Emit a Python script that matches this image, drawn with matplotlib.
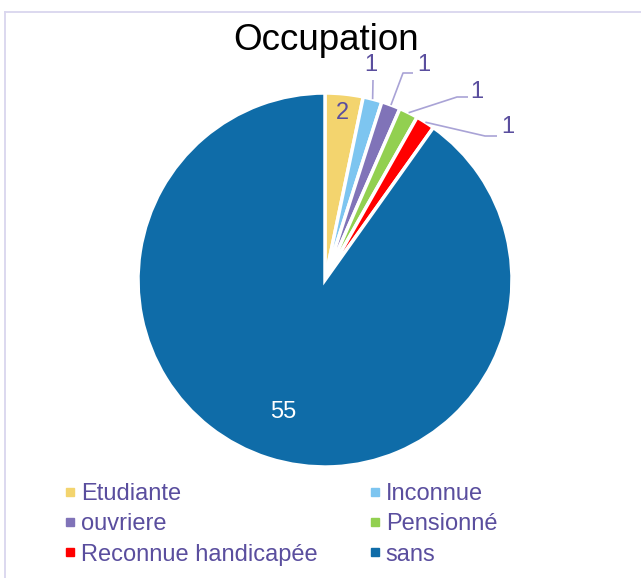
import matplotlib
matplotlib.use("Agg")
import matplotlib.pyplot as plt
from matplotlib.lines import Line2D
import numpy as np

categories = ["Etudiante", "Inconnue", "ouvriere", "Pensionné", "Reconnue handicapée", "sans"]
values = [2, 1, 1, 1, 1, 55]
colors = ["#F3D46E", "#7DC5F0", "#8073B8", "#92D050", "#FF0000", "#0F6CA8"]
title = "Occupation"

plt.rcParams['font.family'] = ['Liberation Sans', 'DejaVu Sans']
W, H = 641, 578
fig = plt.figure(figsize=(W / 100, H / 100), dpi=100)

# pie geometry in pixels
cx, cy, R = 325, 280, 187
L = 1.6
S = 2 * L * R
ax = fig.add_axes([(cx - S / 2) / W, (H - cy - S / 2) / H, S / W, S / H])

wedges, _ = ax.pie(values, colors=colors, startangle=90, counterclock=False,
                   radius=1.0, wedgeprops=dict(edgecolor='white', linewidth=2.5))
ax.set_xlim(-L, L)
ax.set_ylim(-L, L)
ax.set_aspect('equal')
ax.axis('off')

def px(x, y):
    return ((x - cx) / R, (cy - y) / R)

label_col = "#5A4E9E"
line_col = "#A9A3D6"

# inside labels
for i, r, col in [(0, 0.9, label_col), (5, 0.74, 'white')]:
    w = wedges[i]
    mid = np.deg2rad((w.theta1 + w.theta2) / 2)
    ax.text(r * np.cos(mid), r * np.sin(mid), str(values[i]), color=col,
            fontsize=17, ha='center', va='center')

# outside labels with leader lines (pixel layout)
layouts = {
    1: ((371, 65), [(373, 80)]),
    2: ((424, 65), [(403, 73), (413, 73)]),
    3: ((477, 92), [(457, 97), (468, 97)]),
    4: ((508, 127), [(485, 136), (497, 136)]),
}
for i, (tpos, path) in layouts.items():
    w = wedges[i]
    mid = np.deg2rad((w.theta1 + w.theta2) / 2)
    xs = [np.cos(mid)]
    ys = [np.sin(mid)]
    for p in path:
        x, y = px(*p)
        xs.append(x)
        ys.append(y)
    ax.plot(xs, ys, color=line_col, lw=1.2, solid_capstyle='butt')
    tx, ty = px(*tpos)
    ax.text(tx, ty, str(values[i]), color=label_col, fontsize=17, ha='center', va='center')

# title
fig.text(326 / W, 1 - 50 / H, title, fontsize=26.5, ha='center', va='baseline', color='black')

# frame
fig.add_artist(Line2D([5 / W, 5 / W], [1 - 12 / H, 0], color='#D9D6EE', lw=1.3, transform=fig.transFigure))
fig.add_artist(Line2D([5 / W, 1], [1 - 12 / H, 1 - 12 / H], color='#D9D6EE', lw=1.3, transform=fig.transFigure))

# legend
handles = [Line2D([], [], marker='s', linestyle='none', markersize=6,
                  markerfacecolor=c, markeredgecolor=c) for c in colors]
order = [0, 2, 4, 1, 3, 5]
leg = fig.legend([handles[k] for k in order], [categories[k] for k in order],
                 ncol=2, loc='upper left', bbox_to_anchor=(64 / W, 1 - 483 / H),
                 frameon=False, fontsize=17, handlelength=0.5, handletextpad=0.23,
                 labelspacing=0.35, columnspacing=2.15, borderpad=0, borderaxespad=0)
for t in leg.get_texts():
    t.set_color(label_col)

fig.savefig("out.png", dpi=100)
